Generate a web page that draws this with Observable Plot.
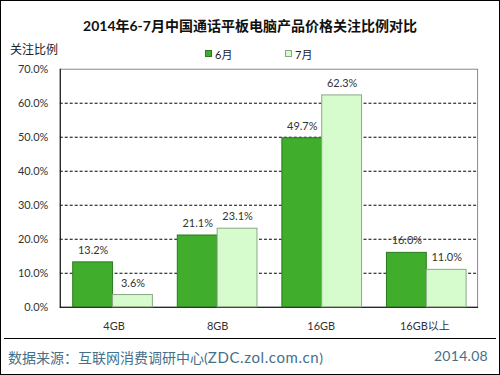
<!DOCTYPE html>
<html><head><meta charset="utf-8">
<script src="https://cdn.jsdelivr.net/npm/d3@7"></script>
<script src="https://cdn.jsdelivr.net/npm/@observablehq/plot@0.6"></script>
<style>
body{margin:0;background:#fff;}
#wrap{position:relative;width:500px;height:375px;box-sizing:border-box;border:1px solid #000;overflow:hidden;font-family:Lato,"Noto Sans CJK SC",sans-serif;}
.abs{position:absolute;white-space:nowrap;}
#wrap svg{position:absolute;left:-1px;top:-1px;}
</style></head>
<body><div id="wrap"></div>
<script>
const categories = ["4GB","8GB","16GB","16GB以上"];
const months = ["6月","7月"];
const june = [13.2, 21.1, 49.7, 16.0];
const july = [3.6, 23.1, 62.3, 11.0];
const yTicks = [0,10,20,30,40,50,60,70];
const colors = ["#41ad2d","#d6fbcd"];
const strokes = ["#2b7a1e","#8aa887"];

const data = categories.flatMap((c,i)=>[
  {cat:c, month:months[0], v:june[i]},
  {cat:c, month:months[1], v:july[i]}
]);

const wrap = document.getElementById("wrap");
const common = {width:500, height:375, marginLeft:60, marginRight:21, marginTop:69, marginBottom:67,
  style:{fontFamily:'Lato,"Noto Sans CJK SC",sans-serif', background:"transparent"}};

const bg = Plot.plot({
  ...common,
  x:{domain:categories, paddingInner:0.23, paddingOuter:0.105, label:null},
  y:{domain:[0,70], label:null},
  marks:[
    Plot.ruleY(yTicks.filter(t=>t>0&&t<70), {stroke:"#000", strokeDasharray:"3,2", strokeWidth:1}),
    Plot.frame({stroke:"#888"}),
    Plot.frame({anchor:"left", stroke:"#000"}),
    Plot.frame({anchor:"bottom", stroke:"#000"}),
    Plot.axisY({ticks:yTicks, tickFormat:d=>d.toFixed(1)+"%", tickSize:0, tickPadding:12, fontSize:11, fill:"#333", label:null}),
    Plot.axisX({tickSize:0, tickPadding:15, fontSize:11, fill:"#333", label:null})
  ]
});
wrap.appendChild(bg);

const bars = Plot.plot({
  ...common,
  fx:{domain:categories, paddingInner:0.23, paddingOuter:0.105, axis:null, label:null},
  x:{domain:months, padding:0, axis:null},
  y:{domain:[0,70], axis:null},
  color:{domain:months, range:colors},
  marks:[
    Plot.barY(data, {fx:"cat", x:"month", y:"v", fill:"month", stroke:d=>strokes[months.indexOf(d.month)], strokeWidth:1}),
    Plot.text(data, {fx:"cat", x:"month", y:"v", text:d=>d.v.toFixed(1)+"%", dy:-12, fontSize:11, fill:"#333"})
  ]
});
wrap.appendChild(bars);

function add(html, css){const d=document.createElement("div");d.className="abs";d.innerHTML=html;Object.assign(d.style,css);wrap.appendChild(d);return d;}
add("2014年6-7月中国通话平板电脑产品价格关注比例对比",{left:"0",width:"498px",textAlign:"center",top:"14px",fontSize:"14px",fontWeight:"bold",color:"#111"});
add("关注比例",{left:"9px",top:"39px",fontSize:"12px",color:"#222"});
months.forEach((m,i)=>{
  const x = i===0?204:284;
  add("",{left:x+"px",top:"49px",width:"5px",height:"5px",background:colors[i],border:"1px solid "+strokes[i]});
  add(m,{left:(x+10)+"px",top:"45px",fontSize:"11px",color:"#222"});
});
add("",{left:"3px",top:"337px",width:"492px",height:"0",borderTop:"1px solid #000"});
add("数据来源：互联网消费调研中心(<span style='letter-spacing:0.6px;font-size:15px'>ZDC.zol.com.cn</span>)",{left:"7px",top:"346px",fontSize:"14px",color:"#45708a"});
add("2014.08",{right:"11px",top:"346px",fontSize:"14px",color:"#45708a",letterSpacing:"0.3px"});
</script></body></html>
